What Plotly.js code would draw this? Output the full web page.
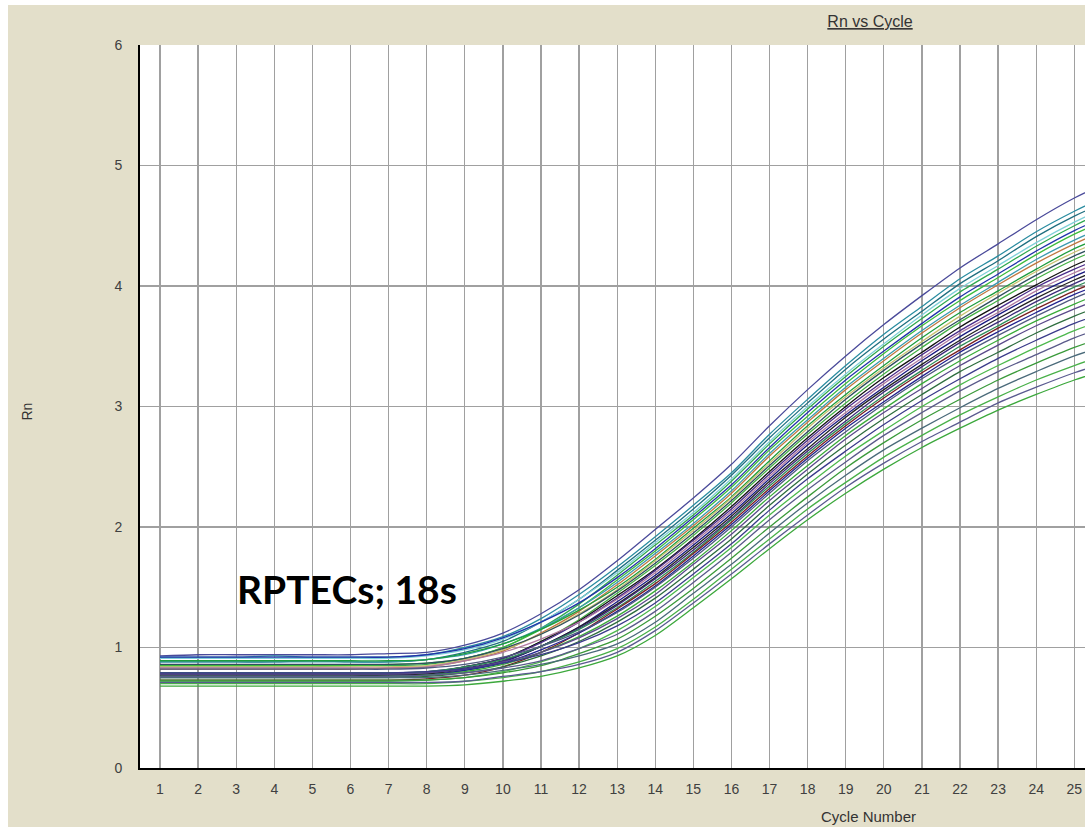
<!DOCTYPE html>
<html>
<head>
<meta charset="utf-8">
<script src="https://cdn.plot.ly/plotly-3.0.1.min.js"></script>
<style>
  html, body { margin: 0; padding: 0; background: #ffffff; width: 1085px; height: 827px; overflow: hidden; }
  #chart { position: absolute; left: 8px; top: 5px; width: 1077px; height: 822px; }
</style>
</head>
<body>
<div id="chart"></div>
<script>
// Cycle numbers 1..26 (the plot window ends just past cycle 25)
const cycles = [1,2,3,4,5,6,7,8,9,10,11,12,13,14,15,16,17,18,19,20,21,22,23,24,25,26];

// Normalised reporter fluorescence (Rn) per well, one value per cycle
const w01 = [0.93,0.94,0.94,0.94,0.94,0.94,0.95,0.96,1.02,1.12,1.28,1.48,1.72,1.98,2.24,2.52,2.84,3.14,3.42,3.68,3.92,4.15,4.35,4.55,4.73,4.88];
const w02 = [0.92,0.92,0.92,0.93,0.92,0.92,0.92,0.94,1.00,1.09,1.24,1.44,1.67,1.92,2.18,2.45,2.77,3.06,3.34,3.60,3.83,4.06,4.25,4.45,4.62,4.77];
const w03 = [0.88,0.88,0.88,0.88,0.89,0.88,0.88,0.90,0.96,1.05,1.21,1.40,1.64,1.89,2.15,2.43,2.74,3.03,3.31,3.56,3.79,4.02,4.21,4.41,4.58,4.72];
const w04 = [0.91,0.91,0.91,0.91,0.91,0.91,0.91,0.93,0.98,1.07,1.21,1.40,1.62,1.87,2.12,2.40,2.71,3.00,3.27,3.52,3.76,3.98,4.17,4.36,4.53,4.68];
const w05 = [0.84,0.84,0.84,0.84,0.84,0.85,0.85,0.86,0.91,1.00,1.16,1.36,1.60,1.85,2.10,2.38,2.69,2.98,3.25,3.50,3.73,3.95,4.14,4.33,4.50,4.65];
const w06 = [0.92,0.92,0.92,0.92,0.92,0.92,0.92,0.94,0.99,1.08,1.21,1.37,1.58,1.82,2.08,2.35,2.66,2.95,3.22,3.46,3.69,3.91,4.10,4.29,4.46,4.60];
const w07 = [0.85,0.85,0.85,0.85,0.85,0.85,0.86,0.87,0.91,1.00,1.15,1.33,1.56,1.80,2.06,2.33,2.64,2.92,3.19,3.44,3.67,3.88,4.07,4.26,4.43,4.57];
const w08 = [0.88,0.88,0.88,0.88,0.88,0.88,0.88,0.90,0.94,1.03,1.16,1.33,1.54,1.78,2.03,2.30,2.61,2.89,3.16,3.40,3.63,3.84,4.03,4.22,4.38,4.52];
const w09 = [0.82,0.82,0.82,0.82,0.82,0.82,0.83,0.84,0.89,0.97,1.12,1.30,1.52,1.76,2.01,2.28,2.59,2.87,3.14,3.38,3.61,3.82,4.01,4.19,4.35,4.49];
const w10 = [0.89,0.89,0.89,0.89,0.89,0.89,0.89,0.90,0.95,1.03,1.15,1.31,1.50,1.73,1.99,2.25,2.55,2.84,3.10,3.34,3.57,3.78,3.96,4.14,4.31,4.44];
const w11 = [0.84,0.84,0.84,0.84,0.84,0.84,0.84,0.85,0.90,0.98,1.11,1.28,1.48,1.72,1.97,2.24,2.53,2.82,3.08,3.32,3.54,3.75,3.94,4.12,4.28,4.41];
const w12 = [0.86,0.86,0.86,0.86,0.86,0.86,0.86,0.87,0.91,0.99,1.11,1.27,1.47,1.70,1.95,2.22,2.51,2.79,3.06,3.30,3.52,3.72,3.91,4.09,4.25,4.38];
const w13 = [0.78,0.78,0.78,0.78,0.78,0.78,0.78,0.79,0.84,0.91,1.05,1.23,1.45,1.68,1.93,2.20,2.49,2.77,3.03,3.27,3.49,3.70,3.88,4.06,4.22,4.35];
const w14 = [0.78,0.78,0.78,0.78,0.78,0.78,0.78,0.79,0.84,0.91,1.05,1.22,1.43,1.65,1.90,2.17,2.46,2.74,3.00,3.24,3.45,3.66,3.84,4.01,4.17,4.30];
const w15 = [0.79,0.79,0.79,0.79,0.79,0.79,0.79,0.80,0.84,0.91,1.04,1.21,1.41,1.64,1.89,2.15,2.44,2.72,2.98,3.21,3.43,3.63,3.81,3.99,4.14,4.27];
const w16 = [0.83,0.83,0.83,0.83,0.83,0.83,0.83,0.84,0.89,0.96,1.07,1.21,1.40,1.62,1.87,2.13,2.42,2.70,2.95,3.19,3.40,3.61,3.78,3.96,4.11,4.24];
const w17 = [0.76,0.76,0.76,0.76,0.76,0.76,0.76,0.77,0.81,0.88,1.01,1.17,1.38,1.60,1.85,2.11,2.40,2.68,2.93,3.16,3.38,3.58,3.76,3.93,4.08,4.21];
const w18 = [0.77,0.77,0.77,0.77,0.77,0.77,0.77,0.78,0.82,0.89,1.01,1.17,1.36,1.58,1.83,2.09,2.38,2.65,2.91,3.14,3.35,3.55,3.73,3.90,4.05,4.18];
const w19 = [0.78,0.78,0.78,0.78,0.78,0.78,0.78,0.79,0.83,0.89,1.01,1.16,1.35,1.57,1.81,2.07,2.36,2.63,2.88,3.12,3.33,3.53,3.70,3.87,4.02,4.15];
const w20 = [0.79,0.79,0.79,0.79,0.79,0.79,0.79,0.80,0.84,0.90,1.01,1.15,1.33,1.55,1.79,2.06,2.34,2.61,2.86,3.09,3.30,3.50,3.67,3.84,3.99,4.12];
const w21 = [0.73,0.73,0.73,0.73,0.73,0.73,0.73,0.74,0.77,0.84,0.96,1.12,1.32,1.53,1.78,2.04,2.32,2.59,2.84,3.07,3.28,3.47,3.65,3.81,3.96,4.08];
const w22 = [0.76,0.76,0.76,0.76,0.76,0.76,0.76,0.77,0.81,0.87,0.98,1.12,1.30,1.51,1.76,2.02,2.30,2.57,2.82,3.04,3.25,3.45,3.62,3.78,3.93,4.05];
const w23 = [0.82,0.82,0.82,0.82,0.82,0.82,0.82,0.83,0.86,0.92,1.01,1.13,1.29,1.50,1.74,2.00,2.28,2.55,2.79,3.02,3.23,3.42,3.59,3.75,3.90,4.02];
const w24 = [0.76,0.76,0.76,0.76,0.76,0.76,0.76,0.77,0.80,0.86,0.96,1.09,1.26,1.47,1.71,1.97,2.25,2.51,2.76,2.98,3.19,3.38,3.55,3.71,3.85,3.98];
const w25 = [0.78,0.78,0.78,0.78,0.78,0.78,0.78,0.79,0.82,0.88,0.96,1.08,1.24,1.44,1.69,1.94,2.22,2.48,2.73,2.95,3.15,3.34,3.51,3.67,3.81,3.93];
const w26 = [0.75,0.75,0.75,0.75,0.75,0.75,0.75,0.76,0.79,0.84,0.93,1.05,1.21,1.41,1.65,1.90,2.18,2.44,2.68,2.90,3.10,3.29,3.45,3.61,3.75,3.87];
const w27 = [0.79,0.79,0.79,0.79,0.79,0.79,0.79,0.80,0.82,0.87,0.94,1.04,1.18,1.37,1.61,1.86,2.14,2.40,2.63,2.85,3.05,3.23,3.40,3.55,3.69,3.80];
const w28 = [0.72,0.72,0.72,0.72,0.72,0.72,0.72,0.73,0.75,0.80,0.88,0.99,1.14,1.34,1.58,1.83,2.10,2.35,2.59,2.80,3.00,3.18,3.34,3.49,3.63,3.74];
const w29 = [0.76,0.76,0.76,0.76,0.76,0.76,0.76,0.77,0.79,0.83,0.89,0.99,1.11,1.30,1.54,1.79,2.06,2.31,2.54,2.76,2.95,3.13,3.29,3.43,3.57,3.68];
const w30 = [0.73,0.73,0.73,0.73,0.73,0.73,0.73,0.73,0.75,0.79,0.85,0.95,1.07,1.26,1.49,1.74,2.00,2.25,2.49,2.70,2.89,3.06,3.22,3.36,3.49,3.60];
const w31 = [0.75,0.75,0.75,0.75,0.75,0.75,0.75,0.75,0.77,0.81,0.86,0.93,1.03,1.21,1.45,1.69,1.95,2.20,2.43,2.64,2.82,2.99,3.15,3.29,3.42,3.52];
const w32 = [0.70,0.70,0.70,0.70,0.70,0.70,0.70,0.70,0.72,0.75,0.80,0.88,0.99,1.17,1.40,1.65,1.90,2.15,2.37,2.58,2.76,2.93,3.08,3.22,3.34,3.45];
const w33 = [0.71,0.71,0.71,0.71,0.71,0.71,0.71,0.71,0.72,0.76,0.80,0.86,0.96,1.14,1.37,1.61,1.86,2.10,2.33,2.53,2.71,2.87,3.03,3.16,3.28,3.38];
const w34 = [0.68,0.68,0.68,0.68,0.68,0.68,0.68,0.68,0.69,0.72,0.76,0.83,0.93,1.10,1.33,1.57,1.82,2.06,2.28,2.48,2.66,2.82,2.97,3.10,3.22,3.32];

const wells = [w01,w02,w03,w04,w05,w06,w07,w08,w09,w10,w11,w12,w13,w14,w15,w16,w17,
               w18,w19,w20,w21,w22,w23,w24,w25,w26,w27,w28,w29,w30,w31,w32,w33,w34];

// Per-well dye colours
const wellColors = ['#4a4a9a','#2a8ca0','#1f6f80','#7fd0d8','#2fa84f','#2233aa','#3dbb3d','#3a9ab0',
                    '#c07840','#1e9e3e','#c8c070','#2f4f5f','#44b044','#111111','#4b2c8a','#b07aa0',
                    '#1a1a80','#222222','#3c2a7a','#2e8b57','#7a2020','#23238f','#505a80','#3aaa3a',
                    '#5a4a8a','#2e6e3e','#3a3a8a','#4cb84c','#5a5a8a','#3a9a3a','#4a6a7a','#48b048',
                    '#5a5a90','#3ca83c'];

const traces = wells.map((rn, i) => ({
  x: cycles,
  y: rn,
  type: 'scatter',
  mode: 'lines',
  line: { color: wellColors[i], width: 1.3, shape: 'spline', smoothing: 0.8 },
  hoverinfo: 'skip',
  showlegend: false
}));

const textFamily = 'Liberation Sans, Arial, sans-serif';
const tickFont = { family: textFamily, size: 14, color: '#404040' };

const layout = {
  width: 1077,
  height: 822,
  paper_bgcolor: '#e3dfca',
  plot_bgcolor: '#ffffff',
  margin: { l: 132, r: 0, t: 40, b: 59, pad: 0 },
  showlegend: false,
  title: {
    text: '<u>Rn vs Cycle</u>',
    font: { family: textFamily, size: 16, color: '#333333' },
    xref: 'paper', x: 0.7725, xanchor: 'center',
    yref: 'container', y: 0.98, yanchor: 'middle'
  },
  xaxis: {
    range: [0.475, 25.28],
    tick0: 1, dtick: 1,
    showgrid: true, gridcolor: '#a0a0a0', gridwidth: 1.3,
    zeroline: false,
    showline: true, linecolor: '#000000', linewidth: 2,
    ticks: 'outside', ticklen: 7, tickcolor: 'rgba(0,0,0,0)',
    tickfont: tickFont,
    fixedrange: true
  },
  yaxis: {
    range: [0, 6],
    tick0: 0, dtick: 1,
    showgrid: true, gridcolor: '#a0a0a0', gridwidth: 1.3,
    zeroline: false,
    showline: true, linecolor: '#000000', linewidth: 2,
    ticks: 'outside', ticklen: 13, tickcolor: 'rgba(0,0,0,0)',
    tickfont: tickFont,
    fixedrange: true
  },
  annotations: [
    {
      text: 'Cycle Number',
      xref: 'paper', yref: 'paper', x: 0.771, y: -0.0664,
      xanchor: 'center', yanchor: 'middle', showarrow: false,
      font: { family: textFamily, size: 15, color: '#333333' }
    },
    {
      text: 'Rn',
      xref: 'paper', yref: 'paper', x: -0.1196, y: 0.493,
      xanchor: 'center', yanchor: 'middle', showarrow: false, textangle: -90,
      font: { family: textFamily, size: 14, color: '#333333' }
    },
    {
      text: '<b>RPTECs; 18s</b>',
      xref: 'paper', yref: 'paper', x: 0.101, y: 0.2476,
      xanchor: 'left', yanchor: 'middle', showarrow: false,
      font: { family: 'Lato, sans-serif', size: 39, color: '#000000' }
    }
  ]
};

Plotly.newPlot('chart', traces, layout, { displayModeBar: false, staticPlot: true });
</script>
</body>
</html>
